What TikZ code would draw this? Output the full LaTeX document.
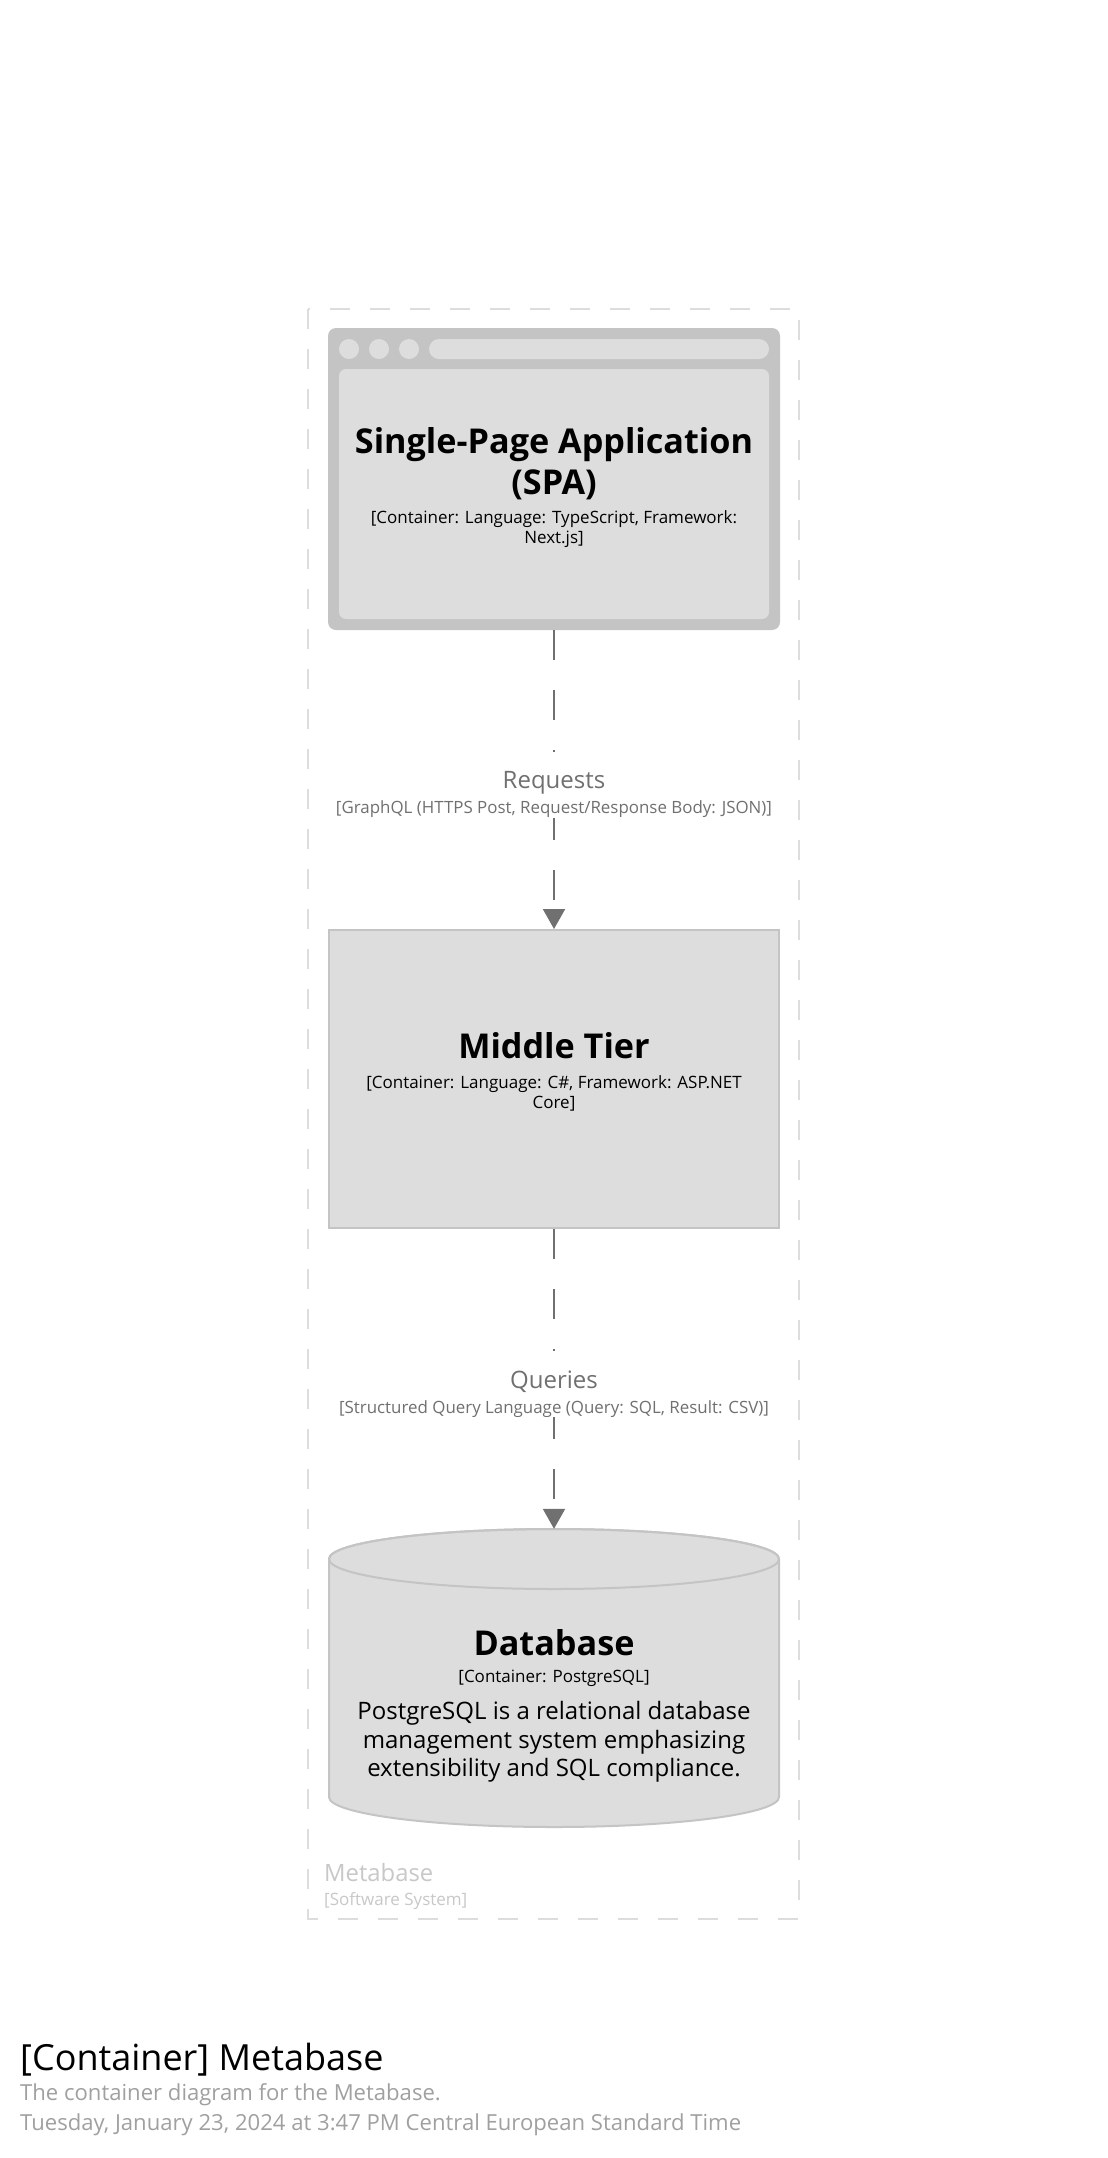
\documentclass[tikz,border=0pt]{standalone}
\usepackage{fontspec}
\setmainfont{Open Sans}
\usetikzlibrary{arrows.meta}
\definecolor{boxfill}{HTML}{DDDDDD}
\definecolor{boxedge}{HTML}{C4C4C4}
\definecolor{linegray}{HTML}{707070}
\definecolor{boundgray}{HTML}{DDDDDD}
\definecolor{boundtext}{HTML}{C8C8C8}
\definecolor{footgray}{HTML}{A0A0A0}

\begin{document}
\begin{tikzpicture}
[x=1pt,y=-1pt,
  containerdecorate/.style={shape=rectangle,minimum width=452pt,minimum height=300pt,inner sep=0pt},
  titledecorate/.style={anchor=base,align=center,inner sep=0pt,font=\fontsize{34.2}{41}\selectfont\bfseries},
  techdecorate/.style={anchor=base,align=center,inner sep=0pt,font=\fontsize{17}{20}\selectfont},
  descdecorate/.style={anchor=base,align=center,inner sep=0pt,font=\fontsize{24}{28.7}\selectfont},
  linedecorate/.style={draw=linegray,line width=2pt,dash pattern=on 30pt off 30pt,
    -{Triangle[width=22pt,length=20pt]}},
  labeldecorate/.style={anchor=base,align=center,fill=white,inner xsep=6pt,inner ysep=0pt,
    text=linegray,font=\fontsize{24}{25}\selectfont},
  footdecorate/.style={anchor=base west,inner sep=0pt,footgray,font=\fontsize{22.1}{30}\selectfont}]
%%
\useasboundingbox[fill=white] (0,0) rectangle (1108,2158);
%%
%% Software system boundary
\draw[boundgray,line width=2pt,dash pattern=on 20pt off 20pt] (308,309) rectangle (799,1919);
\node (sysname) at (324,1905) [anchor=base west,align=left,inner sep=0pt,text=boundtext,
  font=\fontsize{23.8}{24}\selectfont] {Metabase\\{\fontsize{17}{20}\selectfont [Software System]}};
%%
%% Single-Page Application (browser window)
\node (spa) at (554,479) [containerdecorate,minimum height=302pt,fill=boxedge,rounded corners=8pt] {};
\fill[boxfill,rounded corners=7pt] (339,369) rectangle (769,619);
\foreach \x in {349,379,409}
{
  \fill[boxfill] (\x,349) circle[radius=10pt];
}
\fill[boxfill,rounded corners=10pt] (429,339) rectangle (769,359);
\node (spatitle) at (554,494) [titledecorate] {Single-Page Application\\(SPA)};
\node (spatech) at (554,543) [techdecorate] {[Container: Language: TypeScript, Framework:\\Next.js]};
%%
%% Middle Tier
\node (mid) at (554,1079) [containerdecorate,minimum width=450pt,minimum height=298pt,
  fill=boxfill,draw=boxedge,line width=2pt] {};
\node (midtitle) at (554,1058) [titledecorate] {Middle Tier};
\node (midtech) at (554,1108) [techdecorate] {[Container: Language: C\#, Framework: ASP.NET\\Core]};
%%
%% Database (cylinder)
\node (db) at (554,1678.5) [containerdecorate,minimum height=299pt] {};
\filldraw[fill=boxfill,draw=boxedge,line width=2pt]
  (329,1559) -- (329,1797) arc[start angle=180,end angle=360,x radius=225pt,y radius=30pt]
  -- (779,1559) arc[start angle=0,end angle=180,x radius=225pt,y radius=30pt] -- cycle;
\draw[boxedge,line width=2pt] (554,1559) ellipse[x radius=225pt,y radius=30pt];
\node (dbtitle) at (554,1655) [titledecorate] {Database};
\node (dbtech) at (554,1682) [techdecorate] {[Container: PostgreSQL]};
\node (dbdesc) at (554,1776.7) [descdecorate] {PostgreSQL is a relational database\\
  management system emphasizing\\extensibility and SQL compliance.};
%%
%% Relationships
\draw[linedecorate] (spa.south) -- node[labeldecorate,pos=0.615]
  {\rule{0pt}{37pt}Requests\\{\fontsize{16.9}{20}\selectfont [GraphQL (HTTPS Post, Request/Response Body: JSON)]}}
  (mid.north);
\draw[linedecorate] (mid.south) -- node[labeldecorate,pos=0.615]
  {\rule{0pt}{37pt}Queries\\{\fontsize{16.9}{20}\selectfont [Structured Query Language (Query: SQL, Result: CSV)]}}
  (db.north);
%%
%% Diagram title and description
\node (foottitle) at (20,2070) [footdecorate,text=black,font=\fontsize{36}{36}\selectfont] {[Container] Metabase};
\node (footdesc) at (20,2100) [footdecorate] {The container diagram for the Metabase.};
\node (footdate) at (20,2130) [footdecorate] {Tuesday, January 23, 2024 at 3:47 PM Central European Standard Time};
\end{tikzpicture}
\end{document}
